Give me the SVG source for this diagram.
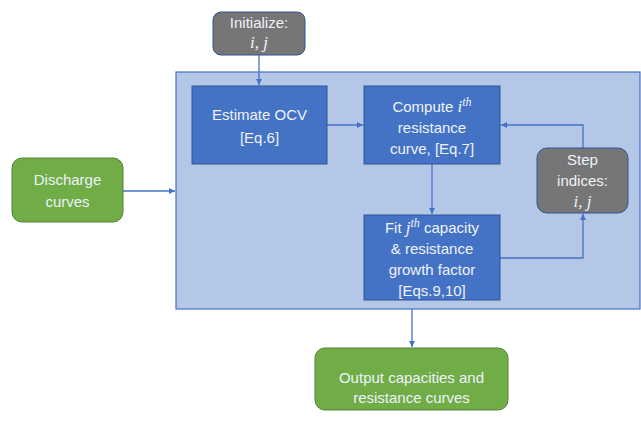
<svg xmlns="http://www.w3.org/2000/svg" width="641" height="424" viewBox="0 0 641 424">
<defs>
<marker id="ah" markerWidth="8" markerHeight="8" refX="6" refY="3" orient="auto" markerUnits="userSpaceOnUse">
<path d="M0,0 L6,3 L0,6 Z" fill="#4472c4"/>
</marker>
</defs>
<style>
.t{font-family:"Liberation Sans","Open Sans",sans-serif;font-size:15px;fill:#eef2fa;text-anchor:middle}
.m{font-family:"Liberation Serif","DejaVu Serif",serif;font-style:italic;font-size:17px}
.sup{font-family:"Liberation Serif","DejaVu Serif",serif;font-style:italic;font-size:12px}
.blue{fill:#4472c4;stroke:#2f5597;stroke-width:1}
.gray{fill:#767676;stroke:#2f5597;stroke-width:1}
.green{fill:#70ad47;stroke:#548235;stroke-width:1}
.c{fill:none;stroke:#4472c4;stroke-width:1.3;marker-end:url(#ah)}
</style>
<rect width="641" height="424" fill="#ffffff"/>
<g id="panel"><rect x="176" y="72" width="464" height="237" fill="#b4c7e7" stroke="#4472c4" stroke-width="1.2"/></g>
<g id="connectors">
<path class="c" d="M259,55 V85"/>
<path class="c" d="M123,191 H175"/>
<path class="c" d="M327,125 H363"/>
<path class="c" d="M432,164 V214"/>
<path class="c" d="M583,148 V125 H501"/>
<path class="c" d="M500,258 H583 V214"/>
<path class="c" d="M412,309 V347"/>
</g>
<g id="initialize">
<rect class="gray" x="213" y="12" width="92" height="43" rx="8"/>
<text class="t" x="259" y="28">Initialize:</text>
<text class="t" x="259" y="48"><tspan class="m">i, j</tspan></text>
</g>
<g id="estimate">
<rect class="blue" x="192" y="86" width="135" height="78"/>
<text class="t" x="259.5" y="120">Estimate OCV</text>
<text class="t" x="259.5" y="143">[Eq.6]</text>
</g>
<g id="compute">
<rect class="blue" x="364" y="86" width="136" height="78"/>
<text class="t" x="432" y="112">Compute <tspan class="m">i</tspan><tspan class="sup" dy="-6">th</tspan></text>
<text class="t" x="432" y="133">resistance</text>
<text class="t" x="432" y="154">curve, [Eq.7]</text>
</g>
<g id="fit">
<rect class="blue" x="364" y="215" width="136" height="85"/>
<text class="t" x="432" y="233">Fit <tspan class="m">j</tspan><tspan class="sup" dy="-6">th</tspan><tspan dy="6"> capacity</tspan></text>
<text class="t" x="432" y="254">&amp; resistance</text>
<text class="t" x="432" y="275">growth factor</text>
<text class="t" x="432" y="296">[Eqs.9,10]</text>
</g>
<g id="step">
<rect class="gray" x="537" y="148" width="91" height="65" rx="10"/>
<text class="t" x="582.5" y="165">Step</text>
<text class="t" x="582.5" y="186">indices:</text>
<text class="t" x="582.5" y="207"><tspan class="m">i, j</tspan></text>
</g>
<g id="discharge">
<rect class="green" x="12" y="158" width="111" height="64" rx="10"/>
<text class="t" x="67.5" y="185">Discharge</text>
<text class="t" x="67.5" y="207">curves</text>
</g>
<g id="output">
<rect class="green" x="315" y="348" width="193" height="62" rx="10"/>
<text class="t" x="411.5" y="383">Output capacities and</text>
<text class="t" x="411.5" y="403">resistance curves</text>
</g>
</svg>
